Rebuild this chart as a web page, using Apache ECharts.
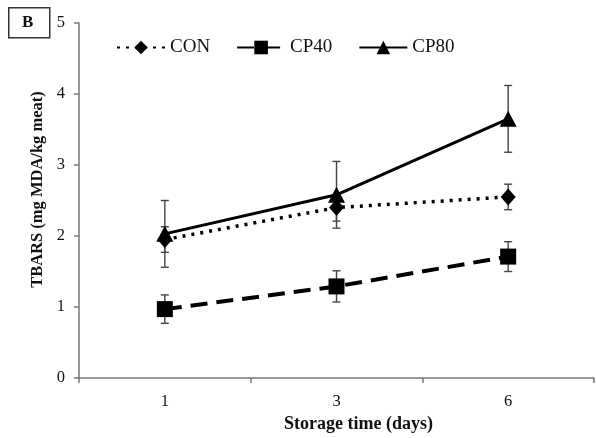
<!DOCTYPE html>
<html>
<head>
<meta charset="utf-8">
<script src="https://cdn.jsdelivr.net/npm/echarts@6/dist/echarts.min.js"></script>
<style>
  html, body { margin: 0; padding: 0; background: #fff; }
  #main { width: 596px; height: 438px; }
</style>
</head>
<body>
<div id="main"></div>
<script>
// storage days and TBARS means / SD
const days = ['1', '3', '6'];
const conMean = [1.95, 2.40, 2.55];
const conErr = [0.18, 0.19, 0.18];
const cp40Mean = [0.97, 1.29, 1.71];
const cp40Err = [0.20, 0.22, 0.21];
const cp80Mean = [2.03, 2.58, 3.65];
const cp80Err = [0.47, 0.47, 0.47];
const yTicks = [0, 1, 2, 3, 4, 5];

const FONT = '"Liberation Serif", "Times New Roman", serif';

function errData(mean, err) {
  return mean.map((m, i) => [i, m - err[i], m + err[i]]);
}

function errSeries(mean, err) {
  return {
    type: 'custom',
    silent: true,
    z: 1,
    data: errData(mean, err),
    renderItem: (params, api) => {
      const lo = api.coord([api.value(0), api.value(1)]);
      const hi = api.coord([api.value(0), api.value(2)]);
      const w = 4;
      const st = { stroke: '#444', lineWidth: 1.4 };
      return {
        type: 'group',
        children: [
          { type: 'line', shape: { x1: lo[0], y1: lo[1], x2: hi[0], y2: hi[1] }, style: st },
          { type: 'line', shape: { x1: lo[0] - w, y1: lo[1], x2: lo[0] + w, y2: lo[1] }, style: st },
          { type: 'line', shape: { x1: hi[0] - w, y1: hi[1], x2: hi[0] + w, y2: hi[1] }, style: st }
        ]
      };
    }
  };
}

const chart = echarts.init(document.getElementById('main'));
const option = {
  animation: false,
  backgroundColor: '#fff',
  grid: { left: 79, right: 2, top: 23, bottom: 58 },
  graphic: [
    { type: 'rect', left: 8, top: 7, shape: { width: 41, height: 30 },
      style: { fill: '#fff', stroke: '#333', lineWidth: 1.5 } },
    { type: 'text', left: 22, top: 14,
      style: { text: 'B', font: 'bold 17px ' + FONT, fill: '#111' } }
  ],
  legend: {
    left: 111, top: 33,
    itemWidth: 48, itemHeight: 17, itemGap: 26,
    textStyle: { fontFamily: FONT, fontSize: 19, color: '#111' },
    data: ['CON', 'CP40', 'CP80']
  },
  xAxis: {
    type: 'category',
    data: days,
    boundaryGap: true,
    name: 'Storage time (days)',
    nameLocation: 'middle',
    nameGap: 37,
    nameTextStyle: { fontFamily: FONT, fontSize: 18, fontWeight: 'bold', color: '#111', padding: [0, 0, 0, 44] },
    axisLine: { lineStyle: { color: '#777', width: 1.5 } },
    axisTick: { show: true, length: 5, lineStyle: { color: '#777', width: 1.5 } },
    axisLabel: { fontFamily: FONT, fontSize: 16.5, color: '#111', margin: 15 },
    splitLine: { show: false }
  },
  yAxis: {
    type: 'value',
    min: yTicks[0], max: yTicks[yTicks.length - 1], interval: 1,
    name: 'TBARS (mg MDA/kg meat)',
    nameLocation: 'middle',
    nameGap: 30,
    nameTextStyle: { fontFamily: FONT, fontSize: 16.5, fontWeight: 'bold', color: '#111', padding: [0, 0, 0, 22] },
    axisLine: { show: true, lineStyle: { color: '#777', width: 1.5 } },
    axisTick: { show: true, length: 5, lineStyle: { color: '#777', width: 1.5 } },
    axisLabel: { fontFamily: FONT, fontSize: 16.5, color: '#111', margin: 14 },
    splitLine: { show: false }
  },
  series: [
    errSeries(conMean, conErr),
    errSeries(cp40Mean, cp40Err),
    errSeries(cp80Mean, cp80Err),
    {
      name: 'CON', type: 'line', data: conMean, z: 3,
      symbol: 'diamond', symbolSize: [15, 17],
      itemStyle: { color: '#000' },
      lineStyle: { color: '#000', width: 3.5, type: [3, 6] }
    },
    {
      name: 'CP40', type: 'line', data: cp40Mean, z: 3,
      symbol: 'rect', symbolSize: 16,
      itemStyle: { color: '#000' },
      lineStyle: { color: '#000', width: 4, type: [17, 9] }
    },
    {
      name: 'CP80', type: 'line', data: cp80Mean, z: 3,
      symbol: 'triangle', symbolSize: [17, 16],
      itemStyle: { color: '#000' },
      lineStyle: { color: '#000', width: 3, type: 'solid' }
    }
  ]
};
chart.setOption(option);
window.addEventListener('resize', () => chart.resize());
</script>
</body>
</html>
